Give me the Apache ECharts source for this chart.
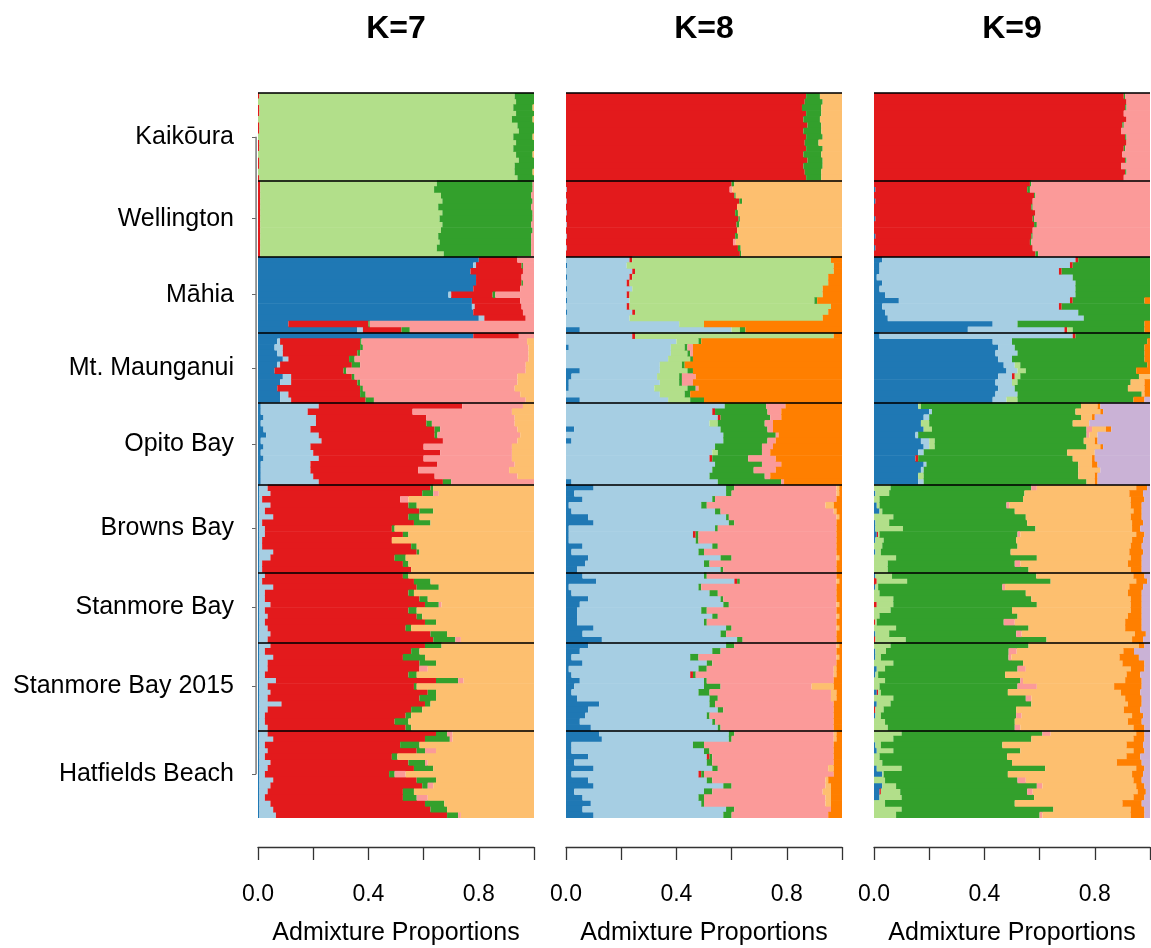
<!DOCTYPE html>
<html>
<head>
<meta charset="utf-8">
<script src="https://cdn.jsdelivr.net/npm/echarts@6/dist/echarts.min.js"></script>
<style>html,body{margin:0;padding:0;background:#fff}#chart{width:1151px;height:948px}</style>
</head>
<body>
<div id="chart"></div>
<script>
// ---------------- DATA ----------------
const POPULATIONS = ['Kaikōura','Wellington','Māhia','Mt. Maunganui','Opito Bay','Browns Bay','Stanmore Bay','Stanmore Bay 2015','Hatfields Beach'];
const PANEL_TITLES = ['K=7','K=8','K=9'];
const X_TICK_LABELS = ['0.0','','0.4','','0.8',''];
const CLUSTER_ORDER = ['db','lb','red','lg','dg','pink','lo','or','lav'];
const CLUSTER_COLORS = ['#1F78B4','#A6CEE3','#E31A1C','#B2DF8A','#33A02C','#FB9A99','#FDBF6F','#FF7F00','#CAB2D6'];

// ----- K=7 -----
const K7_COLS = [
  ['red','lg','dg','lo'],
  ['red','lg','dg','pink'],
  ['db','lb','red','dg','pink'],
  ['db','lb','red','dg','pink','lo'],
  ['db','lb','red','dg','pink','lo'],
  ['db','lb','red','dg','pink','lo'],
  ['db','lb','red','dg','pink','lo'],
  ['db','lb','red','dg','pink','lo'],
  ['db','lb','red','dg','pink','lo']
];
const K7_KAIKOURA = [[.005,.925,.07,0],[0,.935,.065,0],[.005,.92,.07,.005],[.005,.93,.065,0],[0,.92,.075,.005],[.005,.935,.06,0],[.005,.94,.055,0],[0,.925,.07,.005],[.005,.93,.065,0],[.005,.92,.075,0],[0,.935,.06,.005],[.005,.94,.055,0],[.005,.925,.07,0],[0,.93,.065,.005],[.005,.935,.06,0]];
const K7_WELLINGTON = [[.008,.64,.347,.005],[.008,.63,.357,.005],[.008,.655,.327,.01],[.008,.66,.327,.005],[.008,.645,.337,.01],[.008,.66,.327,.005],[.008,.65,.337,.005],[.008,.66,.322,.01],[.008,.655,.332,.005],[.008,.645,.337,.01],[.008,.65,.332,.01],[.008,.64,.342,.01],[.008,.665,.317,.01]];
const K7_MAHIA = [[.80,0,.14,0,.06],[.78,.01,.165,.005,.04],[.77,0,.19,0,.04],[.79,0,.165,0,.045],[.79,0,.165,.005,.04],[.78,0,.17,0,.05],[.69,.01,.15,.01,.14],[.775,0,.175,0,.05],[.775,.01,.17,0,.045],[.78,0,.18,0,.04],[.80,.02,.15,0,.03],[.11,0,.29,.005,.595],[.36,.02,.14,.03,.45]];
const K7_MTMAUNGANUI = [[.78,0,.165,0,.055,0],[.07,.01,.29,.005,.60,.025],[.06,.03,.28,.01,.60,.02],[.07,.02,.27,.01,.61,.02],[.09,.02,.22,.02,.63,.02],[.07,.01,.26,.03,.60,.03],[.06,0,.25,.01,.65,.03],[.09,.03,.22,.01,.59,.06],[.08,.04,.24,.01,.57,.06],[.07,0,.30,.01,.55,.07],[.08,.03,.26,.02,.56,.05],[.08,.04,.27,.03,.55,.03]];
const K7_OPITO = [[.01,.21,.52,0,.22,.04],[.01,.17,.38,0,.36,.08],[.02,.19,.40,0,.32,.07],[.01,.20,.40,.02,.30,.07],[.02,.17,.45,.02,.28,.06],[.03,.19,.42,.01,.30,.05],[.01,.22,.44,0,.27,.06],[.02,.17,.41,0,.32,.08],[.01,.19,.46,0,.26,.08],[.02,.20,.38,0,.32,.08],[.01,.18,.46,0,.28,.07],[.01,.18,.39,0,.33,.09],[.01,.19,.44,0,.30,.06],[.01,.21,.45,.03,.30,0]];
const K7_BROWNS = [[.005,.03,.59,.01,0,.365],[.005,.04,.55,.04,.02,.345],[.005,.01,.50,0,.03,.455],[.005,.04,.50,.03,0,.425],[.005,.02,.56,.05,0,.365],[.005,.05,.49,.04,0,.415],[.005,.01,.55,.06,0,.375],[.005,.02,.46,.01,0,.505],[.005,.02,.50,.02,0,.455],[.005,.01,.47,0,0,.515],[.005,.01,.54,.02,0,.425],[.005,.05,.52,.01,0,.415],[.005,.04,.45,.04,0,.465],[.005,.01,.51,.02,0,.455],[.005,.01,.54,0,0,.445]];
const K7_STANMORE = [[.005,.02,.50,.02,0,.455],[.005,.01,.55,.06,0,.375],[.005,.05,.52,.08,0,.345],[.005,.02,.52,.02,0,.435],[.005,.02,.56,.03,0,.385],[.005,.04,.56,.05,.01,.335],[.005,.02,.52,.03,0,.425],[.005,.03,.54,.02,0,.405],[.005,.02,.58,.04,0,.355],[.005,.03,.50,.02,0,.445],[.005,.04,.58,.06,0,.315],[.005,.03,.60,.08,.02,.265]];
const K7_STANMORE2015 = [[.005,.04,.56,.06,0,.335],[.005,.02,.53,.03,0,.415],[.005,.05,.47,.08,0,.395],[.005,.03,.55,.06,0,.355],[.005,.03,.55,0,.03,.385],[.005,.02,.52,.03,0,.425],[.005,.06,.58,.08,.02,.255],[.005,.03,.53,.01,0,.425],[.005,.04,.57,.03,0,.355],[.005,.03,.55,.06,0,.355],[.005,.08,.52,.02,0,.375],[.005,.03,.52,.04,0,.405],[.005,.02,.51,.02,0,.445],[.005,.02,.47,.05,0,.455],[.005,.03,.50,.02,0,.445]];
const K7_HATFIELDS = [[.005,.03,.61,.04,.02,.295],[.005,.05,.55,.09,.01,.295],[.005,.02,.49,.07,0,.415],[.005,.03,.54,.03,.04,.355],[.005,.02,.46,.02,0,.495],[.005,.04,.50,.06,.01,.385],[.005,.03,.53,.07,0,.365],[.005,.02,.45,.02,.04,.465],[.005,.05,.52,.07,0,.355],[.005,.04,.55,.02,.02,.365],[.005,.03,.49,.04,0,.435],[.005,.02,.50,.05,.04,.385],[.005,.04,.56,.07,0,.325],[.005,.05,.57,.06,0,.315],[.005,.06,.62,.04,.01,.265]];

// ----- K=8 -----
const K8_COLS = [
  ['red','dg','lo'],
  ['lb','red','dg','pink','lo'],
  ['db','lb','red','lg','dg','or'],
  ['db','lb','red','lg','dg','pink','or'],
  ['db','lb','red','lg','dg','pink','or'],
  ['db','lb','red','dg','pink','lo','or'],
  ['db','lb','red','dg','pink','lo','or'],
  ['db','lb','red','dg','pink','lo','or'],
  ['db','lb','red','dg','pink','lo','or']
];
const K8_KAIKOURA = [[.87,.05,.08],[.865,.065,.07],[.855,.07,.075],[.87,.055,.075],[.86,.06,.08],[.875,.05,.075],[.86,.065,.075],[.87,.06,.07],[.865,.05,.085],[.87,.06,.07],[.86,.065,.075],[.875,.055,.07],[.86,.07,.07],[.865,.06,.075],[.87,.055,.075]];
const K8_WELLINGTON = [[0,.60,.01,0,.39],[.003,.59,0,.01,.397],[0,.61,.005,0,.385],[.003,.625,.01,0,.362],[0,.62,0,0,.38],[.003,.61,.01,0,.377],[0,.625,.005,0,.37],[.003,.615,.01,0,.372],[0,.62,0,0,.38],[.003,.61,.01,0,.377],[0,.605,0,.01,.385],[.003,.62,.01,0,.367],[0,.63,.005,0,.365]];
const K8_MAHIA = [[0,.23,.01,.72,0,.04],[.005,.215,0,.75,0,.03],[0,.24,.01,.72,0,.03],[.005,.225,.01,.71,0,.05],[0,.22,.01,.72,0,.05],[.005,.235,0,.69,0,.07],[0,.22,.01,.70,0,.07],[.005,.225,0,.67,.01,.09],[0,.22,.01,.73,0,.04],[.005,.235,.01,.70,0,.05],[0,.23,0,.70,0,.07],[0,.41,0,.09,0,.50],[.05,.55,0,.03,.02,.35]];
const K8_MTMAUNGANUI = [[0,.24,.01,.72,0,0,.03],[0,.40,0,.08,.01,0,.51],[.01,.37,0,.05,.01,.02,.54],[0,.38,0,.06,.01,.01,.54],[0,.37,0,.08,.01,0,.54],[0,.34,0,.08,.01,0,.57],[.05,.29,0,.10,.02,0,.54],[.02,.31,0,.08,.01,.05,.53],[.01,.33,0,.07,.01,.04,.54],[.01,.31,0,.12,.03,.01,.52],[0,.34,0,.09,.02,0,.55],[.05,.32,0,.08,.05,0,.50]];
const K8_OPITO = [[0,.575,0,0,.15,.07,.205],[0,.53,.01,0,.19,.05,.22],[0,.55,.01,0,.18,.04,.22],[0,.52,0,.03,.17,.03,.25],[.03,.53,0,0,.17,.02,.25],[0,.57,0,0,.19,.01,.23],[.02,.55,0,0,.16,.03,.24],[0,.54,0,0,.17,.04,.25],[0,.53,0,.02,.16,.03,.26],[0,.52,.01,0,.13,.10,.24],[0,.54,0,0,.17,.07,.22],[0,.53,0,0,.15,.08,.24],[0,.52,0,0,.20,.02,.26],[.02,.53,0,0,.23,.01,.21]];
const K8_BROWNS = [[.10,.48,0,.03,.37,.01,.01],[.03,.55,0,.02,.38,.01,.01],[.06,.47,0,.01,.44,0,.02],[.01,.48,0,.02,.43,.03,.03],[.02,.52,0,.02,.41,.01,.02],[.08,.50,0,.01,.39,.01,.01],[.10,.49,0,.02,.37,0,.02],[.01,.53,0,.01,.43,0,.02],[.01,.45,.01,.01,.50,0,.02],[.01,.46,0,.01,.50,0,.02],[.06,.47,0,.02,.43,0,.02],[.02,.46,0,.02,.48,0,.02],[.08,.48,0,.04,.38,.01,.01],[.07,.43,0,.02,.46,0,.02],[.04,.52,0,.01,.41,0,.02]];
const K8_STANMORE = [[.06,.44,0,.01,.47,0,.02],[.11,.50,.01,.01,.35,.01,.01],[.01,.47,0,.01,.49,0,.02],[.02,.50,0,.03,.43,0,.02],[.08,.48,0,.01,.41,0,.02],[.05,.52,0,.02,.39,.01,.01],[.04,.45,0,.02,.47,0,.02],[.04,.49,0,.02,.43,.01,.01],[.04,.46,0,.01,.47,0,.02],[.10,.48,0,.02,.38,.01,.01],[.06,.50,0,.02,.40,0,.02],[.13,.49,0,.02,.34,0,.02]];
const K8_STANMORE2015 = [[.08,.50,0,.03,.37,.01,.01],[.05,.48,0,.03,.42,0,.02],[.02,.43,0,.03,.50,.01,.01],[.06,.45,0,.02,.45,0,.02],[.01,.47,0,.03,.46,.01,.02],[.02,.43,.01,.01,.50,.01,.02],[.05,.45,0,.01,.46,0,.03],[.03,.47,0,.06,.33,.08,.03],[.02,.46,0,.04,.44,.02,.02],[.04,.48,0,.03,.41,.02,.02],[.12,.40,0,.02,.43,0,.03],[.08,.47,0,.02,.40,0,.03],[.07,.44,0,.01,.45,0,.03],[.05,.48,0,.01,.43,0,.03],[.09,.46,0,.01,.41,0,.03]];
const K8_HATFIELDS = [[.12,.47,0,.02,.36,.01,.02],[.13,.46,0,.01,.37,.01,.02],[.02,.44,0,.04,.47,0,.03],[.02,.48,0,.02,.45,0,.03],[.08,.43,.01,.01,.44,0,.03],[.03,.48,0,.02,.44,0,.03],[.10,.43,0,.02,.40,.02,.03],[.02,.46,.01,.01,.47,0,.03],[.08,.43,0,.02,.41,.01,.05],[.10,.47,0,.03,.34,.02,.04],[.03,.47,0,.03,.40,.03,.04],[.06,.42,0,.02,.44,.02,.04],[.09,.40,0,.01,.44,.02,.04],[.06,.52,0,.03,.35,0,.04],[.10,.47,0,.03,.35,0,.05]];

// ----- K=9 -----
const K9_COLS = [
  ['red','dg','pink'],
  ['db','red','dg','pink'],
  ['db','lb','red','lg','dg','or'],
  ['db','lb','red','lg','dg','lo','or','lav'],
  ['db','lb','red','lg','dg','pink','lo','or','lav'],
  ['db','red','lg','dg','pink','lo','or','lav'],
  ['db','red','lg','dg','pink','lo','or','lav'],
  ['db','red','lg','dg','pink','lo','or','lav'],
  ['db','red','lg','dg','pink','lo','or','lav']
];
const K9_KAIKOURA = [[.905,.005,.09],[.915,0,.085],[.91,.005,.085],[.905,0,.095],[.915,0,.085],[.90,.005,.095],[.895,0,.105],[.91,.005,.085],[.915,0,.085],[.905,.005,.09],[.90,0,.10],[.91,.005,.085],[.895,0,.105],[.91,.005,.085],[.905,0,.095]];
const K9_WELLINGTON = [[0,.565,.005,.43],[.005,.55,.01,.435],[0,.58,.005,.415],[.005,.57,0,.425],[0,.57,.005,.425],[0,.585,0,.415],[.005,.57,.005,.42],[0,.58,.01,.41],[0,.575,0,.425],[.005,.565,.005,.425],[0,.565,.005,.43],[.005,.57,0,.425],[0,.585,.01,.405]];
const K9_MAHIA = [[.03,.70,.01,0,.26,0],[.02,.69,.01,0,.28,0],[.02,.65,.01,0,.32,0],[.01,.71,0,0,.28,0],[.03,.70,0,0,.27,0],[.02,.71,0,0,.27,0],[.04,.69,0,0,.27,0],[.09,.62,.01,0,.26,.02],[.03,.64,.01,0,.32,0],[.04,.70,0,0,.26,0],[.05,.71,0,0,.24,0],[.43,.09,0,0,.46,.02],[.34,.35,.01,.02,.26,.02]];
const K9_MTMAUNGANUI = [[.02,.70,.01,0,.27,0,0,0],[.43,.07,0,0,.49,0,.01,0],[.45,.06,0,0,.47,0,.02,0],[.44,.08,0,0,.46,0,.02,0],[.45,.05,0,0,.48,0,.02,0],[.47,.04,0,.02,.46,0,.01,0],[.48,.04,0,.03,.40,0,.05,0],[.45,.05,.01,.02,.43,.04,0,0],[.44,.06,0,.02,.41,.05,.02,0],[.45,.06,0,0,.41,.06,.02,0],[.44,.08,0,0,.45,.01,.02,0],[.43,.05,0,.04,.42,0,.04,.02]];
const K9_OPITO = [[.16,0,0,.01,.58,0,.06,.01,.18],[.20,.01,0,0,.52,0,.09,.01,.17],[.18,.02,0,0,.55,0,.04,.01,.20],[.17,0,0,.03,.52,0,.06,0,.22],[.18,0,0,.03,.56,.02,.05,.02,.14],[.15,.01,0,0,.61,.01,.03,0,.19],[.17,.03,0,.02,.54,0,.04,.01,.19],[.18,.02,0,.02,.55,0,.05,.01,.17],[.16,.02,0,0,.52,0,.10,0,.20],[.15,0,.01,0,.56,0,.07,.01,.20],[.18,.01,0,0,.55,0,.05,.02,.19],[.17,.01,0,0,.56,0,.08,0,.18],[.16,0,0,.02,.56,0,.06,.01,.19],[.16,.02,0,0,.59,0,.03,.01,.19]];
const K9_BROWNS = [[0,0,.06,.51,.02,.36,.04,.01],[.005,0,.05,.49,0,.38,.05,.025],[0,0,.02,.52,0,.39,.05,.02],[.01,0,.01,.46,.01,.44,.04,.03],[.02,0,.01,.48,0,.43,.03,.03],[0,0,.07,.48,0,.38,.04,.03],[.005,0,.05,.50,0,.38,.04,.025],[.005,0,.10,.48,0,.35,.03,.035],[.01,.005,.005,.50,.01,.42,.03,.02],[.005,0,.03,.48,0,.42,.04,.025],[0,0,.03,.49,0,.41,.04,.03],[.005,0,.02,.47,0,.43,.05,.025],[0,0,.08,.51,0,.34,.04,.03],[0,0,.05,.46,.02,.39,.05,.03],[0,0,.05,.51,0,.37,.04,.03]];
const K9_STANMORE = [[.005,0,.06,.52,0,.35,.04,.02],[0,.01,.11,.52,0,.31,.04,.01],[.005,0,.01,.45,.01,.45,.05,.025],[0,0,.02,.53,0,.37,.05,.03],[0,0,.07,.50,0,.36,.04,.03],[0,.01,.06,.52,0,.34,.04,.03],[0,0,.06,.44,0,.43,.04,.03],[0,0,.02,.50,0,.40,.05,.03],[0,.005,.005,.46,.04,.40,.06,.03],[0,0,.08,.48,0,.35,.06,.03],[.005,0,.05,.46,.02,.41,.04,.015],[0,.005,.11,.51,0,.31,.04,.025]];
const K9_STANMORE2015 = [[0,0,.06,.50,0,.40,.02,.02],[.005,0,.04,.46,.03,.40,.04,.06],[.005,0,.02,.46,.01,.39,.07,.04],[0,0,.07,.47,0,.36,.08,.02],[.01,0,.03,.48,.03,.38,.05,.02],[.005,0,.01,.46,0,.44,.05,.035],[0,0,.04,.49,.01,.37,.06,.03],[0,0,.02,.50,.07,.28,.10,.03],[.01,.005,.01,.46,0,.41,.07,.035],[0,0,.07,.48,.02,.34,.06,.03],[.01,0,.05,.51,0,.35,.05,.03],[0,.005,.03,.48,0,.39,.06,.035],[.005,0,.02,.49,.02,.40,.04,.025],[0,0,.04,.47,0,.41,.05,.03],[0,0,.05,.46,.02,.41,.04,.02]];
const K9_HATFIELDS = [[0,0,.10,.51,.03,.31,.03,.02],[0,0,.07,.50,0,.37,.04,.02],[.005,0,.02,.44,0,.45,.06,.025],[.01,0,.06,.46,0,.41,.04,.02],[0,0,.02,.46,0,.43,.05,.035],[0,0,.03,.47,0,.38,.09,.03],[.01,0,.09,.52,0,.33,.03,.02],[.03,0,.005,.45,0,.45,.04,.025],[0,0,.04,.48,.03,.39,.03,.03],[.03,0,.05,.51,.02,.34,.03,.02],[.02,.005,.07,.46,.02,.38,.03,.015],[.02,0,.08,.48,0,.36,.04,.02],[0,0,.04,.47,0,.39,.07,.03],[0,0,.10,.55,0,.28,.05,.02],[0,0,.08,.52,.01,.32,.05,.02]];

const K7_ROWS = [K7_KAIKOURA,K7_WELLINGTON,K7_MAHIA,K7_MTMAUNGANUI,K7_OPITO,K7_BROWNS,K7_STANMORE,K7_STANMORE2015,K7_HATFIELDS];
const K8_ROWS = [K8_KAIKOURA,K8_WELLINGTON,K8_MAHIA,K8_MTMAUNGANUI,K8_OPITO,K8_BROWNS,K8_STANMORE,K8_STANMORE2015,K8_HATFIELDS];
const K9_ROWS = [K9_KAIKOURA,K9_WELLINGTON,K9_MAHIA,K9_MTMAUNGANUI,K9_OPITO,K9_BROWNS,K9_STANMORE,K9_STANMORE2015,K9_HATFIELDS];

// ---------------- BUILD ----------------
const FONT = "'Liberation Sans', Arial, Helvetica, sans-serif";
const TEXT = '#000';
const GRID_LEFT = [258, 566, 874];
const GRID_TOP = 93, GRID_W = 276, GRID_H = 725;

const counts = K7_ROWS.map(r => r.length);
const N = counts.reduce((a, b) => a + b, 0);
const starts = []; let acc = 0;
counts.forEach(c => { starts.push(acc); acc += c; });

function panelData(cols, rowsList) {
  const out = CLUSTER_ORDER.map(() => []);
  rowsList.forEach((rows, p) => rows.forEach(r => {
    const s = r.reduce((a, b) => a + b, 0);
    CLUSTER_ORDER.forEach((k, ci) => {
      const j = cols[p].indexOf(k);
      out[ci].push(j >= 0 ? r[j] / s : 0);
    });
  }));
  return out;
}

const panels = [
  panelData(K7_COLS, K7_ROWS),
  panelData(K8_COLS, K8_ROWS),
  panelData(K9_COLS, K9_ROWS)
];

const cats = Array.from({length: N}, (_, i) => 'i' + i);
const labelCats = Array.from({length: 2 * N + 1}, (_, i) => String(i));
const labelAt = {};
starts.forEach((s, p) => { labelAt[2 * s + counts[p]] = POPULATIONS[p]; });

const band = GRID_H / N;
const grid = [], xAxis = [], yAxis = [], series = [], title = [];

panels.forEach((data, i) => {
  grid.push({left: GRID_LEFT[i], top: GRID_TOP, width: GRID_W, height: GRID_H, containLabel: false, outerBoundsMode: 'none'});
  title.push({text: PANEL_TITLES[i], left: GRID_LEFT[i] + GRID_W / 2, top: 13, textAlign: 'center', padding: 0,
    textStyle: {fontSize: 32, fontWeight: 'bold', fontFamily: FONT, color: TEXT}});
  xAxis.push({
    type: 'value', gridIndex: i, min: 0, max: 1, interval: 0.2, position: 'bottom', offset: 29,
    axisLine: {show: true, onZero: false, lineStyle: {color: '#333', width: 1.3}},
    axisTick: {show: true, inside: false, length: 13, lineStyle: {color: '#333', width: 1.3}},
    splitLine: {show: false},
    axisLabel: {show: true, margin: 36, fontSize: 23, color: TEXT, fontFamily: FONT, hideOverlap: false,
      showMinLabel: true, showMaxLabel: true,
      formatter: v => X_TICK_LABELS[Math.round(v / 0.2)] || ''},
    name: 'Admixture Proportions', nameLocation: 'middle', nameGap: 74,
    nameTextStyle: {fontSize: 25, color: TEXT, fontFamily: FONT}
  });
  const catIdx = yAxis.length;
  yAxis.push({type: 'category', gridIndex: i, data: cats, inverse: true, show: false});
  const valIdx = yAxis.length;
  yAxis.push({type: 'value', gridIndex: i, min: 0, max: N, inverse: true, show: false});
  if (i === 0) {
    yAxis.push({
      type: 'category', gridIndex: 0, data: labelCats, inverse: true, boundaryGap: false,
      position: 'left', offset: 2,
      axisLine: {show: false}, splitLine: {show: false},
      axisTick: {show: true, length: 4, interval: idx => labelAt[idx] !== undefined, lineStyle: {color: '#666', width: 1}},
      axisLabel: {show: true, interval: idx => labelAt[idx] !== undefined, formatter: (v, idx) => labelAt[idx] || '',
        fontSize: 25, color: TEXT, fontFamily: FONT, margin: 22}
    });
  }
  CLUSTER_ORDER.forEach((k, ci) => {
    const vals = data[ci];
    if (!vals.some(v => v > 0)) return;
    series.push({
      type: 'bar', name: k, xAxisIndex: i, yAxisIndex: catIdx, stack: 'p' + i,
      data: vals, barWidth: band + 0.7, silent: true, animation: false,
      itemStyle: {color: CLUSTER_COLORS[ci]}
    });
  });
  series.push({
    type: 'line', xAxisIndex: i, yAxisIndex: valIdx, data: [[0, 0]], clip: false, silent: true,
    symbol: 'none', showSymbol: false, lineStyle: {opacity: 0}, animation: false, z: 10,
    markLine: {silent: true, symbol: ['none', 'none'], label: {show: false}, animation: false,
      lineStyle: {color: 'rgba(0,0,0,0.78)', width: 2, type: 'solid'},
      data: starts.map(s => ({yAxis: s}))}
  });
});

const chart = echarts.init(document.getElementById('chart'), null, {renderer: 'canvas'});
chart.setOption({
  backgroundColor: '#fff',
  animation: false,
  title, grid, xAxis, yAxis, series
});

// left axis line of the first panel, spanning first to last population label (through the library's scales)
const axX = chart.convertToPixel({xAxisIndex: 0}, -0.007);
const axY1 = chart.convertToPixel({yAxisIndex: 1}, starts[0] + counts[0] / 2);
const axY2 = chart.convertToPixel({yAxisIndex: 1}, starts[8] + counts[8] / 2);
chart.setOption({
  graphic: [{type: 'line', silent: true, z: 100,
    shape: {x1: axX, y1: axY1, x2: axX, y2: axY2},
    style: {stroke: '#777', lineWidth: 1.5}}]
});
</script>
</body>
</html>
